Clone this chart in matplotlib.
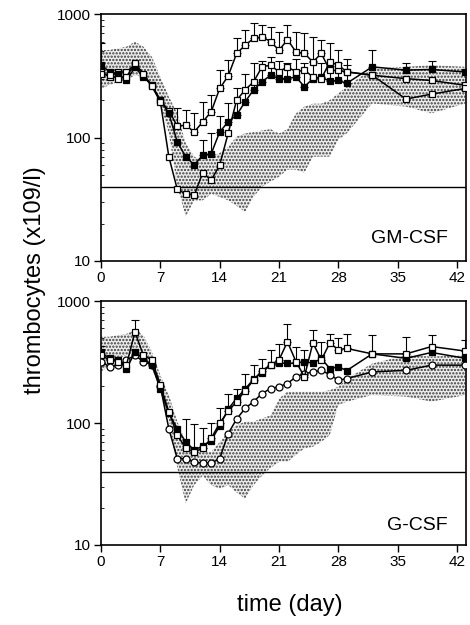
import numpy as np
import matplotlib
matplotlib.use("Agg")
import matplotlib.pyplot as plt
from matplotlib.ticker import FixedLocator, LogLocator, NullFormatter

plt.rcParams['font.family'] = ['Liberation Sans', 'DejaVu Sans']
plt.rcParams['hatch.linewidth'] = 1.1

nan = np.nan

# ---------------------------------------------------------------------------
# Data
# ---------------------------------------------------------------------------
days = [0, 1, 2, 3, 4, 5, 6, 7, 8, 9, 10, 11, 12, 13, 14, 15, 16, 17, 18, 19,
        20, 21, 22, 23, 24, 25, 26, 27, 28, 29, 32, 36, 39, 43]

# GM-CSF panel
gm_open_hi = [340, 310, 340, 340, 390, 320, 265, 200, 165, 124, 126, 111, 134, 162, 250, 315, 480,
              560, 635, 655, 600, 510, 620, 495, 480, 410, 480, 350, 350, 340, 320, 300, 290, 265]
gm_open_hi_err = [580, nan, nan, nan, nan, nan, nan, nan, nan, 172, 167, 157, 195, 221, 352, 425, 635,
                  741, 841, 815, 790, 720, 815, 720, 700, 655, 617, 580, 512, 437, nan, nan, nan, nan]
gm_filled = [390, 340, 330, 290, 370, 310, 265, 200, 157, 92, 70, 60, 72, 74, 111, 134, 152,
             195, 243, 283, 320, 300, 300, 310, 258, 300, 310, 285, 290, 275, 374, 352, 356, 340]
gm_filled_err = [nan, nan, nan, nan, nan, nan, nan, nan, nan, nan, nan, nan, 95, 108, 150, 190, 250,
                 330, 400, 420, 450, 420, 400, 430, 400, 420, 400, 380, 400, 385, 512, 403, 416, nan]
gm_open_lo = [330, 320, 300, 310, 400, 330, 260, 195, 70, 38, 35, 34, 52, 45, 60, 108, 201,
              243, 283, 374, 386, 341, 374, 341, 352, 310, 300, 410, 386, 341, 320, 205, 225, 250]
gm_band_lo = [250, 266, 283, 292, 320, 310, 258, 190, 108, 40, 23, 31, 31, 35, 33, 31, 28,
              25, 33, 40, 44, 48, 55, 55, 52, 70, 70, 70, 96, 108, 189, 178, 157, 189]
gm_band_hi = [512, 512, 528, 545, 597, 545, 451, 310, 214, 157, 90, 70, 66, 70, 75, 84, 102,
              108, 111, 114, 117, 108, 117, 157, 178, 188, 188, 201, 228, 258, 363, 374, 386, 374]

# G-CSF panel
g_open_hi = [360, 330, 320, 300, 560, 360, 330, 205, 124, 80, 62, 58, 62, 75, 100, 125, 150,
             185, 225, 270, 300, 330, 465, 320, 240, 455, 330, 455, 400, 410, 370, 370, 425, 390]
g_open_hi_err = [430, nan, nan, nan, 700, nan, nan, nan, nan, nan, 108, 99, 91, 100, 132, 175, 192,
                 255, 300, 339, 396, 450, 656, 422, 396, 578, 465, 543, 495, 543, 526, 511, 526, 478]
g_filled = [380, 340, 330, 280, 380, 340, 300, 190, 120, 90, 70, 60, 65, 72, 95, 130, 160,
            190, 230, 260, 300, 310, 310, 310, 320, 310, 340, 280, 290, 270, 370, 340, 380, 340]
g_open_lo = [320, 290, 300, 330, 360, 320, 300, 200, 90, 51, 51, 48, 47, 47, 51, 82, 108,
             132, 150, 175, 192, 199, 211, 240, 255, 263, 271, 250, 225, 232, 263, 271, 299, 299]
g_band_lo = [263, 299, 339, 360, 384, 360, 281, 192, 103, 43, 22, 31, 37, 31, 29, 31, 27,
             24, 31, 37, 43, 48, 48, 55, 62, 64, 70, 80, 141, 150, 170, 165, 150, 170]
g_band_hi = [511, 511, 526, 540, 578, 526, 384, 247, 170, 103, 70, 62, 58, 58, 70, 85, 96,
             103, 103, 109, 116, 159, 181, 181, 181, 181, 181, 186, 199, 232, 308, 360, 352, 360]

CUTOFF = 40
XTICKS = [0, 7, 14, 21, 28, 35, 42]
YTICKS = [10, 100, 1000]

# ---------------------------------------------------------------------------
# Figure
# ---------------------------------------------------------------------------
fig = plt.figure(figsize=(4.70, 6.25), dpi=100, facecolor="white")
ax_top = fig.add_axes([0.215, 0.5824, 0.777, 0.395])
ax_bot = fig.add_axes([0.215, 0.128, 0.777, 0.390])

panels = [
    (ax_top, "GM-CSF", 0.093,
     [(gm_open_hi, gm_open_hi_err, "s", "white"),
      (gm_filled, gm_filled_err, "s", "black"),
      (gm_open_lo, None, "s", "white")],
     gm_band_lo, gm_band_hi),
    (ax_bot, "G-CSF", 0.078,
     [(g_open_lo, None, "o", "white"),
      (g_filled, None, "s", "black"),
      (g_open_hi, g_open_hi_err, "s", "white")],
     g_band_lo, g_band_hi),
]

d = np.array(days, dtype=float)

for ax, name, ty, series, blo, bhi in panels:
    ax.set_yscale("log")

    # stippled control range
    ax.fill_between(d, blo, bhi, facecolor="#eeeeee", edgecolor="#3a3a3a",
                    hatch=".....", linewidth=0, zorder=1)

    ax.axhline(CUTOFF, color="black", linewidth=1.0, zorder=2)

    for vals, err, mk, fc in series:
        v = np.array(vals, dtype=float)
        if err is not None:
            e = np.array(err, dtype=float)
            ok = ~np.isnan(e)
            ax.errorbar(d[ok], v[ok], yerr=[np.zeros(ok.sum()), e[ok] - v[ok]],
                        fmt="none", ecolor="black", elinewidth=0.8,
                        capsize=3, capthick=0.8, zorder=3)
        ax.plot(d, v, color="black", linewidth=1.1, marker=mk,
                markersize=5, markerfacecolor=fc, markeredgecolor="black",
                markeredgewidth=0.9, zorder=4, clip_on=True)

    ax.set_xlim(0, 43.1)
    ax.set_ylim(10, 1000)
    ax.xaxis.set_major_locator(FixedLocator(XTICKS))
    ax.set_xticklabels([str(t) for t in XTICKS])
    ax.yaxis.set_major_locator(FixedLocator(YTICKS))
    ax.set_yticklabels([str(t) for t in YTICKS])
    ax.yaxis.set_minor_locator(LogLocator(base=10, subs=np.arange(2, 10)))
    ax.yaxis.set_minor_formatter(NullFormatter())
    ax.tick_params(axis="both", which="major", direction="out", length=5,
                   width=1.0, labelsize=11, pad=2, color="black")
    ax.tick_params(axis="y", which="minor", direction="in", length=2, width=0.6)
    for sp in ax.spines.values():
        sp.set_linewidth(1.2)

    ax.text(0.95, ty, name, transform=ax.transAxes, ha="right", va="center",
            fontsize=14)

fig.text(0.074, 0.552, "thrombocytes (x109/l)", rotation=90,
         ha="center", va="center", fontsize=17)
fig.text(0.617, 0.032, "time (day)", ha="center", va="center", fontsize=17)

fig.savefig("out.png", dpi=100, facecolor="white")
